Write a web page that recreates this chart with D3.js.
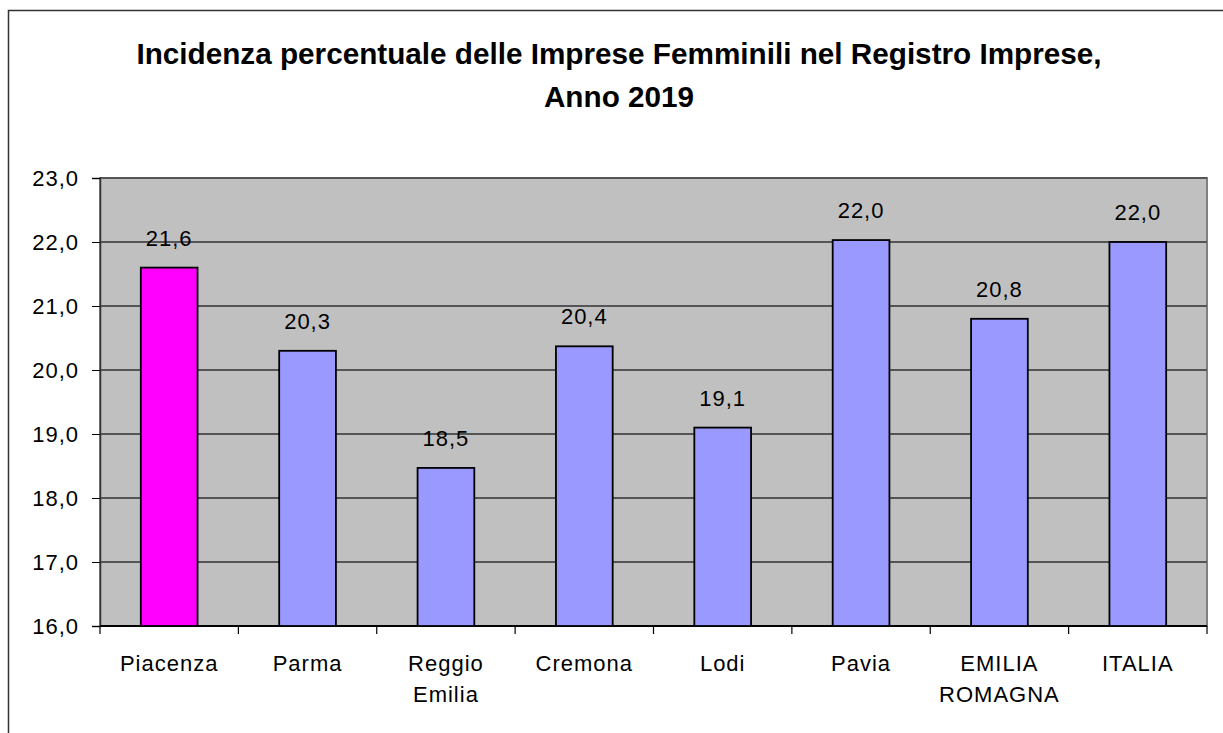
<!DOCTYPE html>
<head>
    <meta charset="utf-8">
</head>
<style>
    body {
      margin: 0;
      background: #fff;
      font-family: "Liberation Sans", Arial, sans-serif;
    }
    .tick text, .val, .cat {
      font-size: 22px;
      letter-spacing: 1px;
      fill: #000;
    }
    .title {
      font-size: 29.7px;
      font-weight: bold;
    }
</style>
<body>
<script src="https://d3js.org/d3.v7.min.js"></script>
<script>

var categories = ["Piacenza", "Parma", "Reggio Emilia", "Cremona", "Lodi", "Pavia", "EMILIA ROMAGNA", "ITALIA"]
var catLines = [["Piacenza"], ["Parma"], ["Reggio", "Emilia"], ["Cremona"], ["Lodi"], ["Pavia"], ["EMILIA", "ROMAGNA"], ["ITALIA"]]
var values = [21.6, 20.3, 18.47, 20.37, 19.1, 22.03, 20.8, 22.0]
var labels = ["21,6", "20,3", "18,5", "20,4", "19,1", "22,0", "20,8", "22,0"]
var yTicks = [16, 17, 18, 19, 20, 21, 22, 23]
var titleLines = ["Incidenza percentuale delle Imprese Femminili nel Registro Imprese,", "Anno 2019"]

var W = 1223, H = 733
var margin = {top: 178, right: 16, bottom: 107, left: 100}
var width = W - margin.left - margin.right,
    height = H - margin.top - margin.bottom

var svg = d3.select("body").append("svg")
    .attr("width", W)
    .attr("height", H)

// outer frame (runs off the right and bottom)
svg.append("rect")
    .attr("x", 8.5).attr("y", 10.5)
    .attr("width", W + 20).attr("height", H + 20)
    .attr("fill", "none")
    .attr("stroke", "#333")
    .attr("stroke-width", 1.5)

svg.append("text")
    .attr("class", "title")
    .attr("text-anchor", "middle")
    .selectAll("tspan")
    .data(titleLines)
  .enter().append("tspan")
    .attr("x", 619)
    .attr("y", function(d, i) { return 64 + i * 43 })
    .text(function(d) { return d })

var g = svg.append("g")
    .attr("transform", "translate(" + margin.left + "," + margin.top + ")")

var x = d3.scaleBand()
    .domain(categories)
    .range([0, width])
    .padding(0)

var y = d3.scaleLinear()
    .domain([16, 23])
    .range([height, 0])

// plot background
g.append("rect")
    .attr("width", width)
    .attr("height", height)
    .attr("fill", "#c0c0c0")
    .attr("stroke", "#808080")
    .attr("stroke-width", 2)

// gridlines
g.selectAll(".grid")
    .data(yTicks.slice(1))
  .enter().append("line")
    .attr("x1", 0).attr("x2", width)
    .attr("y1", function(d) { return y(d) })
    .attr("y2", function(d) { return y(d) })
    .attr("stroke", "#555")
    .attr("stroke-width", 2)

var yAxis = d3.axisLeft(y)
    .tickValues(yTicks)
    .tickSize(8)
    .tickPadding(13)
    .tickFormat(function(d) { return d3.format(".1f")(d).replace(".", ",") })

var ya = g.append("g").call(yAxis)
ya.select(".domain").attr("stroke", "#333").attr("stroke-width", 1.5)
ya.selectAll(".tick line").attr("stroke", "#000")
ya.selectAll(".tick text").attr("font-family", null).attr("font-size", null)

// x axis with ticks at category boundaries
var xa = g.append("g").attr("transform", "translate(0," + height + ")")
xa.append("line")
    .attr("x1", 0).attr("x2", width)
    .attr("stroke", "#000").attr("stroke-width", 2)
xa.selectAll(".xt")
    .data(categories.concat([null]))
  .enter().append("line")
    .attr("x1", function(d, i) { return i < categories.length ? x(d) : width })
    .attr("x2", function(d, i) { return i < categories.length ? x(d) : width })
    .attr("y1", 0).attr("y2", 8)
    .attr("stroke", "#000").attr("stroke-width", 1.2)

var cat = xa.selectAll(".cat")
    .data(categories)
  .enter().append("text")
    .attr("class", "cat")
    .attr("text-anchor", "middle")
cat.selectAll("tspan")
    .data(function(d, i) { return catLines[i].map(function(s) { return {s: s, c: d} }) })
  .enter().append("tspan")
    .attr("x", function(d) { return x(d.c) + x.bandwidth() / 2 })
    .attr("y", function(d, i) { return 45 + i * 31 })
    .text(function(d) { return d.s })

// bars
var bw = x.bandwidth() * 0.41
g.selectAll(".bar")
    .data(values)
  .enter().append("rect")
    .attr("class", "bar")
    .attr("x", function(d, i) { return x(categories[i]) + (x.bandwidth() - bw) / 2 })
    .attr("width", bw)
    .attr("y", function(d) { return y(d) })
    .attr("height", function(d) { return height - y(d) })
    .attr("fill", function(d, i) { return i === 0 ? "#ff00ff" : "#9999ff" })
    .attr("stroke", "#000")
    .attr("stroke-width", 1.8)

g.selectAll(".val")
    .data(values)
  .enter().append("text")
    .attr("class", "val")
    .attr("text-anchor", "middle")
    .attr("x", function(d, i) { return x(categories[i]) + x.bandwidth() / 2 })
    .attr("y", function(d) { return y(d) - 22 })
    .text(function(d, i) { return labels[i] })

</script>
</body>
